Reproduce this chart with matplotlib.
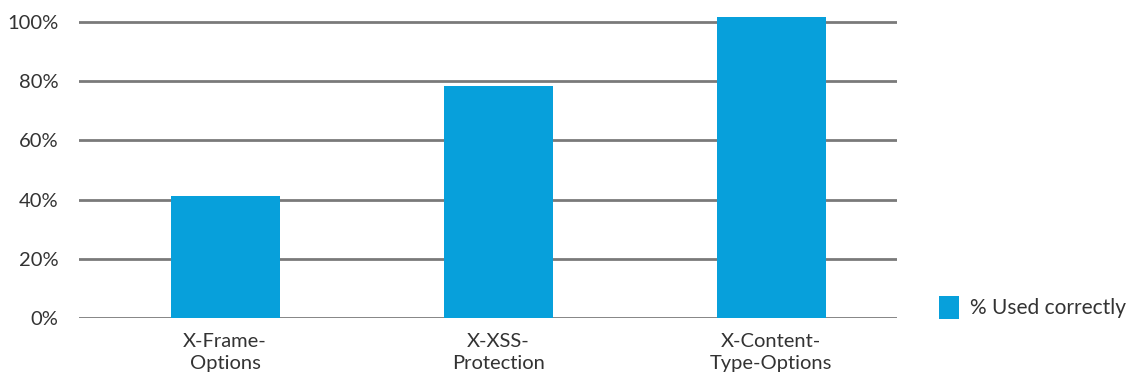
import numpy as np
import matplotlib.pyplot as plt

# headers and share used correctly (%)
headers = ["X-Frame-\nOptions", "X-XSS-\nProtection", "X-Content-\nType-Options"]
used_correctly = [41.2, 78.4, 101.5]
y_ticks = [0, 20, 40, 60, 80, 100]

plt.rcParams['font.family'] = ['Lato', 'DejaVu Sans']

fig = plt.figure(figsize=(11.29, 3.81), dpi=100)
ax = fig.add_axes([0.07, 0.1654, 0.7245, 0.7926])

x = np.arange(len(headers))
ax.bar(x, used_correctly, width=0.40, color='#07a0db', zorder=3,
       label='% Used correctly')

ax.set_ylim(0, 102)
ax.set_xlim(-0.535, 2.46)
ax.set_yticks(y_ticks)
ax.set_yticklabels([f"{t}%" for t in y_ticks], fontsize=14.5, color='#333333')
ax.set_xticks(x)
ax.set_xticklabels(headers, fontsize=14.5, color='#333333', linespacing=1.35)
ax.tick_params(length=0)
ax.tick_params(axis='y', pad=15)
ax.tick_params(axis='x', pad=11)
ax.yaxis.grid(True, color='#7a7a7a', linewidth=2, zorder=0)
for s in ax.spines.values():
    s.set_visible(False)

ax.legend(loc='lower left', bbox_to_anchor=(1.028, -0.065), frameon=False,
          fontsize=15, handlelength=1.0, handleheight=1.3, handletextpad=0.5,
          labelcolor='#333333')

fig.savefig('out.png', dpi=100)
